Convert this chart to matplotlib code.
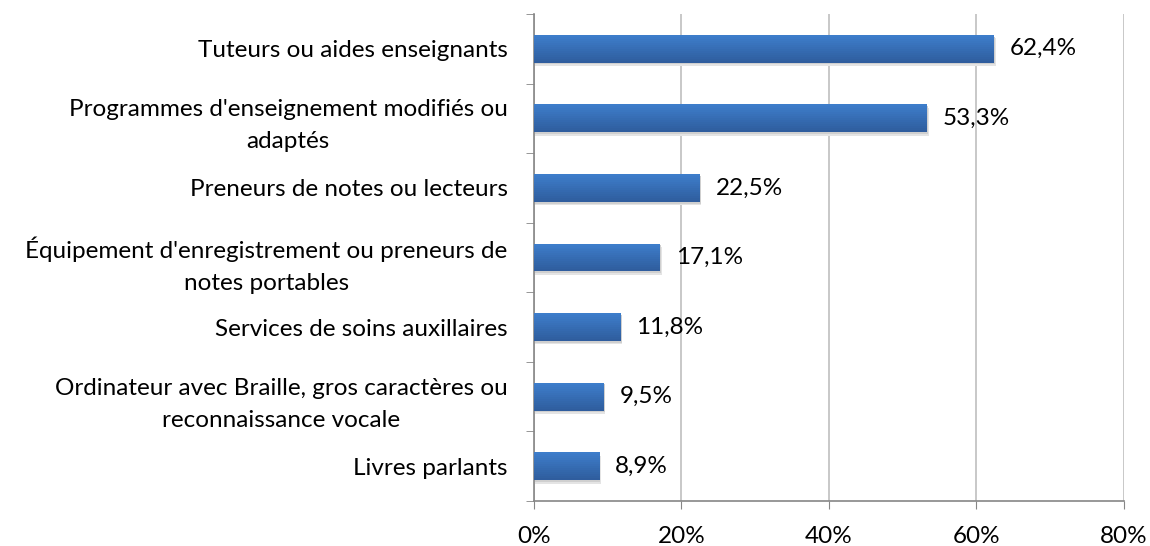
import matplotlib.pyplot as plt
import numpy as np

categories = [
    "Tuteurs ou aides enseignants",
    "Programmes d'enseignement modifiés ou\nadaptés",
    "Preneurs de notes ou lecteurs",
    "Équipement d'enregistrement ou preneurs de\nnotes portables",
    "Services de soins auxillaires",
    "Ordinateur avec Braille, gros caractères ou\nreconnaissance vocale",
    "Livres parlants",
]
values = [62.4, 53.3, 22.5, 17.1, 11.8, 9.5, 8.9]
value_labels = ["62,4%", "53,3%", "22,5%", "17,1%", "11,8%", "9,5%", "8,9%"]
x_ticks = [0, 20, 40, 60, 80]
x_tick_labels = ["0%", "20%", "40%", "60%", "80%"]

plt.rcParams['font.family'] = ['Lato', 'DejaVu Sans']
fs = 17.5

fig = plt.figure(figsize=(11.5, 5.46), dpi=100)
ax = fig.add_axes([0.4643, 0.0824, 0.9774 - 0.4643, 0.9744 - 0.0824])

n = len(categories)
y = np.arange(n)[::-1]
h = 0.40

# soft shadow under each bar
ax.barh(y - 0.05, values, height=h, left=0.2, color='#e4e4e4', zorder=2)
ax.barh(y - 0.025, values, height=h, left=0.1, color='#cfcfcf', zorder=2)

# vertical gradient: light top, darker bottom
top_col = np.array([0x3e, 0x7e, 0xcc]) / 255
bot_col = np.array([0x2e, 0x5c, 0x9c]) / 255
steps = 14
for k in range(steps):
    t = (k + 0.5) / steps
    col = top_col * (1 - t) + bot_col * t
    yc = y + h / 2 - (k + 0.5) * h / steps
    ax.barh(yc, values, height=h / steps * 1.05, color=col, zorder=3, linewidth=0)

for yi, v, lab in zip(y, values, value_labels):
    ax.text(v + 2.1, yi, lab, va='center', ha='left', fontsize=fs, color='black')

ax.set_xlim(0, 80)
ax.set_ylim(-0.5, n - 0.5)
ax.set_xticks(x_ticks)
ax.set_xticklabels(x_tick_labels, fontsize=fs)
ax.set_yticks(y)
ax.set_yticklabels(categories, fontsize=fs, multialignment='center', linespacing=1.65)
ax.tick_params(axis='y', length=0, pad=19)
ax.set_yticks(np.arange(-0.5, n, 1.0), minor=True)
ax.tick_params(axis='y', which='minor', length=6, color='#868686', direction='out')
ax.tick_params(axis='x', length=6, color='#868686', direction='out', pad=12)

ax.grid(axis='x', color='#bfbfbf', linewidth=1.2, zorder=0)
ax.set_axisbelow(True)
for s in ['top', 'right']:
    ax.spines[s].set_visible(False)
for s in ['left', 'bottom']:
    ax.spines[s].set_color('#868686')
    ax.spines[s].set_linewidth(1.2)

fig.savefig('out.png', dpi=100)
